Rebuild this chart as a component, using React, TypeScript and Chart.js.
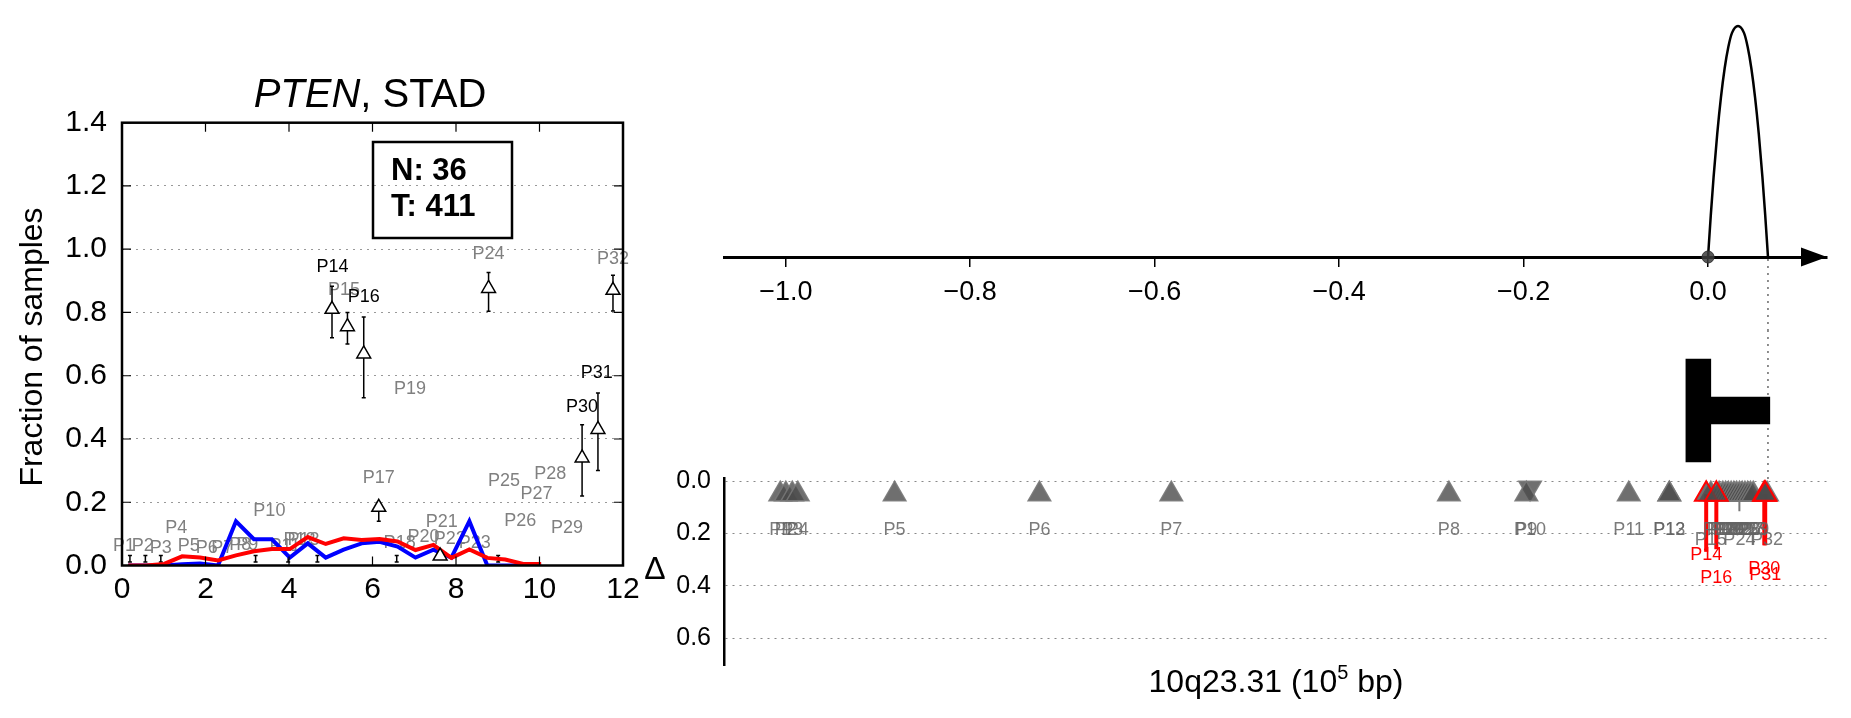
import React, { useEffect, useRef } from "react";
import { Chart, registerables } from "chart.js";

Chart.register(...registerables);

const FONT = '"Liberation Sans", Arial, Helvetica, sans-serif';
Chart.defaults.font.family = FONT;

// ---------------- Left panel data ----------------
const LEFT_X_TICKS = [0, 2, 4, 6, 8, 10, 12];
const LEFT_Y_TICKS = [0, 0.2, 0.4, 0.6, 0.8, 1.0, 1.2, 1.4];
const DIST_X = [0.15, 0.58, 1.01, 1.44, 1.87, 2.3, 2.73, 3.16, 3.59, 4.02, 4.45, 4.88, 5.31, 5.74, 6.17, 6.6, 7.03, 7.46, 7.89, 8.32, 8.75, 9.18, 9.61, 10.04];
const BLUE_Y = [0, 0, 0, 0.004, 0.006, 0, 0.14, 0.083, 0.083, 0.025, 0.07, 0.025, 0.05, 0.07, 0.075, 0.06, 0.025, 0.05, 0.025, 0.14, 0, 0, 0, 0];
const RED_Y = [0, 0, 0.005, 0.029, 0.025, 0.016, 0.032, 0.045, 0.052, 0.052, 0.09, 0.068, 0.086, 0.081, 0.084, 0.076, 0.049, 0.065, 0.024, 0.051, 0.024, 0.019, 0.005, 0.005];

const PT_X = [5.03, 5.4, 5.79, 6.15, 7.62, 8.78, 11.02, 11.4, 11.76];
const PT_Y = [0.81, 0.755, 0.669, 0.184, 0.03, 0.876, 0.34, 0.43, 0.87];
const PT_LO = [0.72, 0.7, 0.53, 0.14, 0.03, 0.804, 0.22, 0.3, 0.805];
const PT_HI = [0.883, 0.8, 0.786, 0.2, 0.03, 0.926, 0.445, 0.545, 0.918];

const RUG_X = [0.19, 0.56, 0.93, 3.2, 3.98, 4.68, 6.58, 9.01];
const RUG_LO = [0.011, 0.011, 0.011, 0.011, 0.011, 0.011, 0.011, 0.011];
const RUG_HI = [0.032, 0.032, 0.032, 0.032, 0.032, 0.032, 0.032, 0.032];

const LBL_NAMES = ["P1", "P2", "P3", "P4", "P5", "P6", "P7", "P8", "P9", "P10", "P11", "P12", "P13", "P14", "P15", "P16", "P17", "P18", "P19", "P20", "P21", "P22", "P23", "P24", "P25", "P26", "P27", "P28", "P29", "P30", "P31", "P32"];
const LBL_X = [0.05, 0.5, 0.93, 1.3, 1.6, 2.03, 2.4, 2.83, 3.0, 3.53, 3.9, 4.25, 4.35, 5.04, 5.32, 5.79, 6.15, 6.65, 6.9, 7.22, 7.66, 7.85, 8.45, 8.78, 9.15, 9.54, 9.93, 10.26, 10.66, 11.02, 11.37, 11.76];
const LBL_Y = [0.06, 0.06, 0.055, 0.12, 0.06, 0.055, 0.055, 0.065, 0.065, 0.173, 0.06, 0.08, 0.08, 0.944, 0.87, 0.85, 0.275, 0.07, 0.557, 0.09, 0.137, 0.085, 0.07, 0.986, 0.266, 0.14, 0.227, 0.29, 0.117, 0.5, 0.61, 0.97];
const LBL_DARK = ["P14", "P16", "P30", "P31"];

// ---------------- Right panel data ----------------
const X_MIN = -1.067;
const X_MAX = 0.129;
const TOP_TICKS = [-1.0, -0.8, -0.6, -0.4, -0.2, 0.0];
const CURVE_X = [0, 0.003, 0.006, 0.01, 0.014, 0.018, 0.022, 0.026, 0.0325, 0.039, 0.043, 0.047, 0.051, 0.055, 0.059, 0.062, 0.065];
const CURVE_Y = [0, 0.181, 0.345, 0.534, 0.691, 0.816, 0.909, 0.97, 1.0, 0.97, 0.909, 0.816, 0.691, 0.534, 0.345, 0.181, 0];
const ORIGIN_X = [0];
const ORIGIN_Y = [0];
const GENE_UTR = [-0.024, 0.003];
const GENE_CDS = [0.003, 0.067];
const MARK_X = 0.065;

const BOT_NAMES = LBL_NAMES;
const BOT_X = [-1.006, -1.0, -0.993, -0.987, -0.882, -0.725, -0.582, -0.281, -0.197, -0.193, -0.086, -0.042, -0.042, -0.002, 0.003, 0.009, 0.012, 0.016, 0.019, 0.022, 0.025, 0.028, 0.031, 0.034, 0.037, 0.04, 0.043, 0.046, 0.049, 0.061, 0.062, 0.064];
const BOT_Y = [0.05, 0.05, 0.05, 0.05, 0.05, 0.05, 0.05, 0.05, 0.05, 0.025, 0.05, 0.05, 0.05, 0.05, 0.05, 0.05, 0.05, 0.05, 0.05, 0.05, 0.05, 0.05, 0.05, 0.05, 0.05, 0.05, 0.05, 0.05, 0.05, 0.05, 0.05, 0.05];
const BOT_DOWN = ["P10"];
const BOT_RED = ["P14", "P16", "P30", "P31"];
const BOT_DELTA = [null, null, null, null, null, null, null, null, null, null, null, null, null, 0.27, null, 0.26, null, null, null, null, null, null, null, 0.115, null, null, null, null, null, 0.245, 0.245, null];
const BOT_LBL_Y = [0.185, 0.185, 0.185, 0.185, 0.185, 0.185, 0.185, 0.185, 0.185, 0.185, 0.185, 0.185, 0.185, 0.283, 0.225, 0.37, 0.185, 0.185, 0.185, 0.185, 0.185, 0.185, 0.185, 0.225, 0.185, 0.185, 0.185, 0.185, 0.185, 0.336, 0.36, 0.225];
const DELTA_TICKS = [0, 0.2, 0.4, 0.6];

const fmt = (v: number) => v.toFixed(1).replace("-", "\u2212");

// ---------------- Left chart ----------------
const leftDecor = {
  id: "leftDecor",
  beforeDatasetsDraw(chart: any) {
    const { ctx, scales } = chart;
    const x = scales.x, y = scales.y;
    ctx.save();
    ctx.font = `18px ${FONT}`;
    ctx.textAlign = "center";
    ctx.textBaseline = "middle";
    LBL_NAMES.forEach((n, i) => {
      ctx.fillStyle = LBL_DARK.includes(n) ? "#000" : "#808080";
      ctx.fillText(n, x.getPixelForValue(LBL_X[i]), y.getPixelForValue(LBL_Y[i]));
    });
    ctx.strokeStyle = "#000";
    ctx.lineWidth = 1.5;
    const bar = (xv: number, lo: number, hi: number) => {
      const px = x.getPixelForValue(xv);
      const p1 = y.getPixelForValue(lo), p2 = y.getPixelForValue(hi);
      ctx.beginPath();
      ctx.moveTo(px, p1); ctx.lineTo(px, p2);
      ctx.moveTo(px - 2, p1); ctx.lineTo(px + 2, p1);
      ctx.moveTo(px - 2, p2); ctx.lineTo(px + 2, p2);
      ctx.stroke();
    };
    PT_X.forEach((xv, i) => bar(xv, PT_LO[i], PT_HI[i]));
    RUG_X.forEach((xv, i) => bar(xv, RUG_LO[i], RUG_HI[i]));
    ctx.restore();
  },
  afterDraw(chart: any) {
    const { ctx, chartArea, scales } = chart;
    const { left, right, top, bottom } = chartArea;
    ctx.save();
    ctx.strokeStyle = "#000";
    ctx.lineWidth = 1.2;
    ctx.beginPath();
    LEFT_X_TICKS.forEach((v) => {
      const px = scales.x.getPixelForValue(v);
      ctx.moveTo(px, bottom); ctx.lineTo(px, bottom - 9);
      ctx.moveTo(px, top); ctx.lineTo(px, top + 9);
    });
    LEFT_Y_TICKS.forEach((v) => {
      const py = scales.y.getPixelForValue(v);
      ctx.moveTo(left, py); ctx.lineTo(left + 9, py);
      ctx.moveTo(right, py); ctx.lineTo(right - 9, py);
    });
    ctx.stroke();
    ctx.lineWidth = 2.5;
    ctx.strokeRect(left, top, right - left, bottom - top);

    // title
    ctx.fillStyle = "#000";
    ctx.textBaseline = "alphabetic";
    ctx.textAlign = "left";
    ctx.font = `italic 40px ${FONT}`;
    const w1 = ctx.measureText("PTEN").width;
    ctx.font = `40px ${FONT}`;
    const w2 = ctx.measureText(", STAD").width;
    const x0 = 370 - (w1 + w2) / 2;
    ctx.font = `italic 40px ${FONT}`;
    ctx.fillText("PTEN", x0, 107);
    ctx.font = `40px ${FONT}`;
    ctx.fillText(", STAD", x0 + w1, 107);

    // y label
    ctx.save();
    ctx.translate(33, 347);
    ctx.rotate(-Math.PI / 2);
    ctx.textAlign = "center";
    ctx.textBaseline = "middle";
    ctx.font = `32px ${FONT}`;
    ctx.fillText("Fraction of samples", 0, 0);
    ctx.restore();

    // N/T box
    ctx.lineWidth = 2.5;
    ctx.strokeRect(373, 142, 139, 96);
    ctx.font = `bold 31px ${FONT}`;
    ctx.textAlign = "left";
    ctx.fillText("N: 36", 391, 180);
    ctx.fillText("T: 411", 391, 216);
    ctx.restore();
  },
};

function makeLeft(): any {
  return {
    type: "scatter",
    data: {
      datasets: [
        { data: DIST_X.map((x, i) => ({ x, y: RED_Y[i] })), showLine: true, borderColor: "#ff0000", borderWidth: 4, pointRadius: 0, order: 1 },
        { data: DIST_X.map((x, i) => ({ x, y: BLUE_Y[i] })), showLine: true, borderColor: "#0000ff", borderWidth: 4, pointRadius: 0, order: 2 },
        { data: PT_X.map((x, i) => ({ x, y: PT_Y[i] })), pointStyle: "triangle", pointRadius: 8, backgroundColor: "#ffffff", borderColor: "#000", borderWidth: 1.5, order: 0, clip: false },
      ],
    },
    options: {
      animation: false,
      responsive: false,
      maintainAspectRatio: false,
      layout: { autoPadding: false, padding: { left: 0, top: 122.7, right: 37, bottom: 0 } },
      plugins: { legend: { display: false }, tooltip: { enabled: false } },
      scales: {
        x: {
          type: "linear", min: 0, max: 12,
          afterBuildTicks: (s: any) => { s.ticks = LEFT_X_TICKS.map((v) => ({ value: v })); },
          ticks: { color: "#000", font: { size: 30 }, padding: -2, callback: (v: any) => String(v) },
          grid: { display: false },
          border: { display: false },
          afterFit: (s: any) => { s.height = 152.5; s.paddingLeft = 0; s.paddingRight = 0; },
        },
        y: {
          type: "linear", min: 0, max: 1.4,
          afterBuildTicks: (s: any) => { s.ticks = LEFT_Y_TICKS.map((v) => ({ value: v })); },
          ticks: { color: "#000", font: { size: 30 }, padding: 15, callback: (v: any) => Number(v).toFixed(1) },
          grid: { color: "#999", lineWidth: 1, drawTicks: false },
          border: { display: false, dash: [2, 5] },
          afterFit: (s: any) => { s.width = 122; s.paddingTop = 0; s.paddingBottom = 0; },
        },
      },
    },
    plugins: [leftDecor],
  };
}

// ---------------- Top right chart ----------------
const topDecor = {
  id: "topDecor",
  afterDraw(chart: any) {
    const { ctx, chartArea, scales } = chart;
    ctx.save();
    const yb = chartArea.bottom;
    const xr = chartArea.right;
    ctx.fillStyle = "#000";
    ctx.beginPath();
    ctx.moveTo(xr, yb);
    ctx.lineTo(xr - 26, yb - 9.5);
    ctx.lineTo(xr - 26, yb + 9.5);
    ctx.closePath();
    ctx.fill();
    const px = scales.x.getPixelForValue(MARK_X);
    ctx.strokeStyle = "#444";
    ctx.lineWidth = 1.2;
    ctx.setLineDash([2, 5]);
    ctx.beginPath();
    ctx.moveTo(px, yb + 2);
    ctx.lineTo(px, chart.height);
    ctx.stroke();
    ctx.restore();
  },
};

function makeTop(): any {
  return {
    type: "scatter",
    data: {
      datasets: [
        { data: ORIGIN_X.map((x, i) => ({ x, y: ORIGIN_Y[i] })), pointRadius: 6, backgroundColor: "rgba(60,60,60,0.85)", borderColor: "#333", borderWidth: 1, clip: false, order: 0 },
        { data: CURVE_X.map((x, i) => ({ x, y: CURVE_Y[i] })), showLine: true, borderColor: "#000", borderWidth: 2.5, pointRadius: 0, cubicInterpolationMode: "monotone", clip: false, order: 1 },
      ],
    },
    options: {
      animation: false,
      responsive: false,
      maintainAspectRatio: false,
      layout: { autoPadding: false, padding: { left: 24, right: 24, top: 10, bottom: 0 } },
      plugins: { legend: { display: false }, tooltip: { enabled: false } },
      scales: {
        x: {
          type: "linear", min: X_MIN, max: X_MAX,
          afterBuildTicks: (s: any) => { s.ticks = TOP_TICKS.map((v) => ({ value: v })); },
          ticks: { color: "#000", font: { size: 27 }, padding: 9, callback: (v: any) => fmt(Number(v)) },
          grid: { drawOnChartArea: false, drawTicks: true, tickLength: 10, color: "#000", lineWidth: 1.5 },
          border: { display: true, color: "#000", width: 3 },
          afterFit: (s: any) => { s.height = 73; s.paddingLeft = 0; s.paddingRight = 0; },
        },
        y: { type: "linear", min: 0, max: 1.069, display: false },
      },
    },
    plugins: [topDecor],
  };
}

// ---------------- Gene model chart ----------------
const midDecor = {
  id: "midDecor",
  beforeDatasetsDraw(chart: any) {
    const { ctx, scales } = chart;
    const px = scales.x.getPixelForValue(MARK_X);
    ctx.save();
    ctx.strokeStyle = "#444";
    ctx.lineWidth = 1.2;
    ctx.setLineDash([2, 5]);
    ctx.beginPath();
    ctx.moveTo(px, 0);
    ctx.lineTo(px, chart.height);
    ctx.stroke();
    ctx.restore();
  },
};

function makeMid(): any {
  return {
    type: "bar",
    data: {
      labels: ["PTEN"],
      datasets: [
        { data: [GENE_UTR], backgroundColor: "#000", barThickness: 103, grouped: false, borderWidth: 0 },
        { data: [GENE_CDS], backgroundColor: "#000", barThickness: 27, grouped: false, borderWidth: 0 },
      ],
    },
    options: {
      indexAxis: "y",
      animation: false,
      responsive: false,
      maintainAspectRatio: false,
      layout: { autoPadding: false, padding: { left: 24, right: 24, top: 10, bottom: 0 } },
      plugins: { legend: { display: false }, tooltip: { enabled: false } },
      scales: {
        x: { type: "linear", min: X_MIN, max: X_MAX, display: false },
        y: { type: "category", display: false },
      },
    },
    plugins: [midDecor],
  };
}

// ---------------- Bottom (delta) chart ----------------
const botDecor = {
  id: "botDecor",
  beforeDatasetsDraw(chart: any) {
    const { ctx, scales } = chart;
    ctx.save();
    BOT_NAMES.forEach((n, i) => {
      const d = BOT_DELTA[i];
      if (d === null) return;
      const red = BOT_RED.includes(n);
      ctx.strokeStyle = red ? "#ff0000" : "#777";
      ctx.lineWidth = red ? 4 : 2;
      const px = scales.x.getPixelForValue(BOT_X[i]);
      ctx.beginPath();
      ctx.moveTo(px, scales.y.getPixelForValue(BOT_Y[i]));
      ctx.lineTo(px, scales.y.getPixelForValue(d as number));
      ctx.stroke();
    });
    ctx.restore();
  },
  afterDatasetsDraw(chart: any) {
    const { ctx, scales } = chart;
    ctx.save();
    ctx.font = `18px ${FONT}`;
    ctx.textAlign = "center";
    ctx.textBaseline = "middle";
    BOT_NAMES.forEach((n, i) => {
      ctx.fillStyle = BOT_RED.includes(n) ? "#ff0000" : "rgba(100,100,100,0.85)";
      ctx.fillText(n, scales.x.getPixelForValue(BOT_X[i]), scales.y.getPixelForValue(BOT_LBL_Y[i]));
    });
    ctx.restore();
  },
  afterDraw(chart: any) {
    const { ctx } = chart;
    ctx.save();
    ctx.fillStyle = "#000";
    ctx.textAlign = "center";
    ctx.textBaseline = "middle";
    ctx.font = `32px ${FONT}`;
    ctx.fillText("\u0394", 55, 110);
    // x title with superscript
    const a = "10q23.31 (10", b = "5", c = " bp)";
    ctx.textAlign = "left";
    ctx.textBaseline = "alphabetic";
    ctx.font = `32px ${FONT}`;
    const wa = ctx.measureText(a).width, wc = ctx.measureText(c).width;
    ctx.font = `20px ${FONT}`;
    const wb = ctx.measureText(b).width;
    const x0 = 676 - (wa + wb + wc) / 2;
    const base = 232;
    ctx.font = `32px ${FONT}`;
    ctx.fillText(a, x0, base);
    ctx.font = `20px ${FONT}`;
    ctx.fillText(b, x0 + wa, base - 13);
    ctx.font = `32px ${FONT}`;
    ctx.fillText(c, x0 + wa + wb, base);
    ctx.restore();
  },
};

function makeBottom(): any {
  const idx = BOT_NAMES.map((_, i) => i);
  const up = idx.filter((i) => !BOT_DOWN.includes(BOT_NAMES[i]) && !BOT_RED.includes(BOT_NAMES[i]));
  const down = idx.filter((i) => BOT_DOWN.includes(BOT_NAMES[i]));
  const red = idx.filter((i) => BOT_RED.includes(BOT_NAMES[i]));
  const pts = (list: number[]) => list.map((i) => ({ x: BOT_X[i], y: BOT_Y[i] }));
  return {
    type: "scatter",
    data: {
      datasets: [
        { data: pts(red), pointStyle: "triangle", pointRadius: 13, backgroundColor: "rgba(75,75,75,0.8)", borderColor: "#ff0000", borderWidth: 2, clip: false, order: 0 },
        { data: pts(up), pointStyle: "triangle", pointRadius: 13, backgroundColor: "rgba(75,75,75,0.8)", borderColor: "rgba(120,120,120,0.9)", borderWidth: 1.5, clip: false, order: 1 },
        { data: pts(down), pointStyle: "triangle", rotation: 180, pointRadius: 13, backgroundColor: "rgba(75,75,75,0.8)", borderColor: "rgba(120,120,120,0.9)", borderWidth: 1.5, clip: false, order: 2 },
      ],
    },
    options: {
      animation: false,
      responsive: false,
      maintainAspectRatio: false,
      layout: { autoPadding: false, padding: { left: 0, right: 24, top: 18, bottom: 53 } },
      plugins: { legend: { display: false }, tooltip: { enabled: false } },
      scales: {
        x: { type: "linear", min: X_MIN, max: X_MAX, display: false },
        y: {
          type: "linear", min: -0.012, max: 0.702, reverse: true,
          afterBuildTicks: (s: any) => { s.ticks = DELTA_TICKS.map((v) => ({ value: v })); },
          ticks: { color: "#000", font: { size: 25 }, padding: 13, callback: (v: any) => Number(v).toFixed(1) },
          grid: { color: "#888", lineWidth: 1, drawTicks: false },
          border: { display: true, color: "#000", width: 2.5, dash: [2, 5] },
          afterFit: (s: any) => { s.width = 124; s.paddingTop = 0; s.paddingBottom = 0; },
        },
      },
    },
    plugins: [botDecor],
  };
}

function ChartBox({ left, top, width, height, make }: any) {
  const ref = useRef<HTMLCanvasElement>(null);
  useEffect(() => {
    const chart = new Chart(ref.current as HTMLCanvasElement, make());
    return () => chart.destroy();
  }, []);
  return (
    <div style={{ position: "absolute", left, top, width, height }}>
      <canvas ref={ref} width={width} height={height} style={{ width, height, display: "block" }} />
    </div>
  );
}

export default function App() {
  return (
    <div style={{ position: "absolute", left: 0, top: 0, width: 1851, height: 718, background: "#fff", overflow: "hidden" }}>
      <ChartBox left={0} top={0} width={660} height={718} make={makeLeft} />
      <ChartBox left={700} top={330} width={1151} height={151} make={makeMid} />
      <ChartBox left={700} top={0} width={1151} height={330} make={makeTop} />
      <ChartBox left={600} top={460} width={1251} height={258} make={makeBottom} />
    </div>
  );
}
